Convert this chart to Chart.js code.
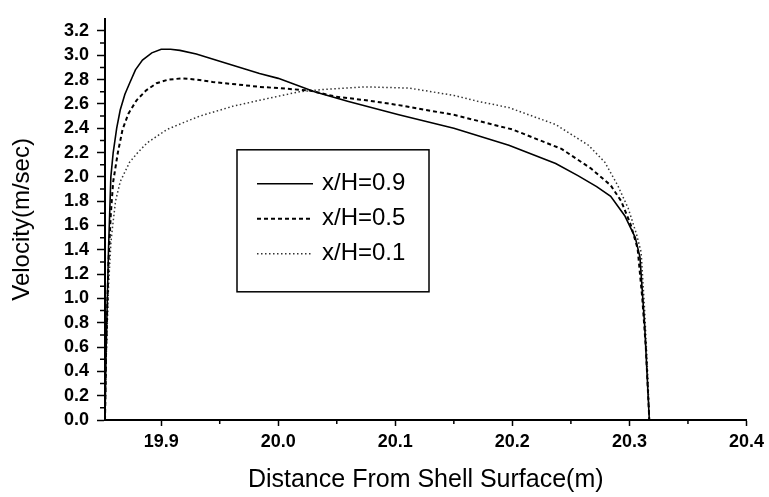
<!DOCTYPE html>
<html>
<head>
<meta charset="utf-8">
<script src="https://cdn.jsdelivr.net/npm/chart.js@4.4.0/dist/chart.umd.min.js"></script>
<style>
  html, body { margin: 0; padding: 0; background: #fff; }
  #wrap { width: 769px; height: 497px; }
</style>
</head>
<body>
<div id="wrap"><canvas id="velocityChart" width="769" height="497"></canvas></div>
<script>
// values: distance (m) and velocity (m/sec) for each x/H
const seriesLabels = ['x/H=0.9', 'x/H=0.5', 'x/H=0.1'];

const dist09 = [19.852, 19.853, 19.855, 19.857, 19.859, 19.862, 19.865, 19.869, 19.873, 19.878, 19.884, 19.892, 19.900, 19.908, 19.916, 19.930, 19.950, 19.984, 20.000, 20.031, 20.060, 20.103, 20.150, 20.197, 20.237, 20.256, 20.272, 20.284, 20.296, 20.305, 20.309, 20.313, 20.317];
const vel09  = [0.00, 0.60, 1.40, 2.00, 2.20, 2.40, 2.55, 2.68, 2.77, 2.88, 2.96, 3.02, 3.05, 3.05, 3.04, 3.01, 2.95, 2.85, 2.81, 2.70, 2.62, 2.51, 2.40, 2.26, 2.11, 2.01, 1.92, 1.84, 1.68, 1.50, 1.34, 0.78, 0.00];

const dist05 = [19.852, 19.853, 19.855, 19.857, 19.859, 19.863, 19.867, 19.872, 19.879, 19.887, 19.896, 19.906, 19.918, 19.930, 19.944, 19.965, 19.984, 20.000, 20.027, 20.049, 20.075, 20.103, 20.150, 20.200, 20.242, 20.267, 20.284, 20.293, 20.301, 20.307, 20.311, 20.314, 20.317];
const vel05  = [0.00, 0.60, 1.30, 1.70, 1.96, 2.20, 2.39, 2.52, 2.63, 2.71, 2.77, 2.80, 2.81, 2.80, 2.78, 2.76, 2.74, 2.73, 2.71, 2.66, 2.63, 2.59, 2.51, 2.39, 2.23, 2.07, 1.93, 1.80, 1.61, 1.41, 1.00, 0.60, 0.00];

const dist01 = [19.852, 19.853, 19.855, 19.857, 19.858, 19.861, 19.865, 19.873, 19.880, 19.888, 19.905, 19.920, 19.933, 19.961, 19.984, 20.018, 20.040, 20.075, 20.112, 20.150, 20.171, 20.197, 20.237, 20.265, 20.279, 20.290, 20.299, 20.306, 20.310, 20.313, 20.316, 20.317];
const vel01  = [0.00, 0.50, 1.10, 1.45, 1.55, 1.80, 1.96, 2.12, 2.20, 2.28, 2.39, 2.45, 2.50, 2.58, 2.63, 2.70, 2.72, 2.74, 2.73, 2.67, 2.62, 2.57, 2.43, 2.26, 2.12, 1.93, 1.74, 1.53, 1.38, 0.90, 0.30, 0.00];

const xTickValues = [19.9, 20.0, 20.1, 20.2, 20.3, 20.4];
const yTickValues = [0.0, 0.2, 0.4, 0.6, 0.8, 1.0, 1.2, 1.4, 1.6, 1.8, 2.0, 2.2, 2.4, 2.6, 2.8, 3.0, 3.2];
const xMinorTicks = [19.95, 20.05, 20.15, 20.25, 20.35];
const yMinorTicks = [0.1, 0.3, 0.5, 0.7, 0.9, 1.1, 1.3, 1.5, 1.7, 1.9, 2.1, 2.3, 2.5, 2.7, 2.9, 3.1];

function toPoints(xs, ys) {
    return xs.map((x, i) => ({ x: x, y: ys[i] }));
}

const FONT = '"Liberation Sans", Arial, Helvetica, sans-serif';
Chart.defaults.font.family = FONT;
Chart.defaults.color = '#000';

// small outward ticks between the labelled ones
const minorTicks = {
    id: 'minorTicks',
    afterDraw(chart) {
        const ctx = chart.ctx;
        const xs = chart.scales.x;
        const ys = chart.scales.y;
        ctx.save();
        ctx.strokeStyle = '#000';
        ctx.lineWidth = 1.5;
        ctx.beginPath();
        xMinorTicks.forEach(v => {
            const px = xs.getPixelForValue(v);
            ctx.moveTo(px, xs.top);
            ctx.lineTo(px, xs.top + 4);
        });
        yMinorTicks.forEach(v => {
            const py = ys.getPixelForValue(v);
            ctx.moveTo(ys.right, py);
            ctx.lineTo(ys.right - 5, py);
        });
        ctx.stroke();
        ctx.restore();
    }
};

// boxed legend sitting inside the plot
const boxLegend = {
    id: 'boxLegend',
    afterDraw(chart) {
        const ctx = chart.ctx;
        const area = chart.chartArea;
        const bx = area.left + 132, by = area.top + 131;
        ctx.save();
        ctx.strokeStyle = '#000';
        ctx.lineWidth = 1.5;
        ctx.setLineDash([]);
        ctx.strokeRect(bx, by, 192, 142);
        ctx.font = '24px ' + FONT;
        ctx.textBaseline = 'middle';
        ctx.fillStyle = '#000';
        chart.data.datasets.forEach((ds, i) => {
            const y = by + 34 + i * 35;
            ctx.strokeStyle = ds.borderColor;
            ctx.lineWidth = ds.borderWidth;
            ctx.setLineDash(ds.borderDash || []);
            ctx.beginPath();
            ctx.moveTo(bx + 20, y);
            ctx.lineTo(bx + 76, y);
            ctx.stroke();
            ctx.setLineDash([]);
            ctx.fillText(ds.label, bx + 85, y);
        });
        ctx.restore();
    }
};

new Chart(document.getElementById('velocityChart'), {
    type: 'line',
    data: {
        datasets: [
            {
                label: seriesLabels[0],
                data: toPoints(dist09, vel09),
                borderColor: '#000',
                borderWidth: 1.6
            },
            {
                label: seriesLabels[1],
                data: toPoints(dist05, vel05),
                borderColor: '#000',
                borderWidth: 2,
                borderDash: [4, 3]
            },
            {
                label: seriesLabels[2],
                data: toPoints(dist01, vel01),
                borderColor: '#333',
                borderWidth: 1.5,
                borderDash: [1.5, 2.5]
            }
        ]
    },
    options: {
        responsive: false,
        animation: false,
        devicePixelRatio: 1,
        layout: { padding: { top: 10, right: 20, left: 0, bottom: 0 } },
        elements: {
            point: { radius: 0 },
            line: { tension: 0, fill: false }
        },
        plugins: {
            legend: { display: false },
            tooltip: { enabled: false }
        },
        scales: {
            x: {
                type: 'linear',
                min: 19.852,
                max: 20.4,
                afterBuildTicks: s => { s.ticks = xTickValues.map(v => ({ value: v })); },
                afterFit: s => { s.height = 77; },
                grid: { display: true, drawOnChartArea: false, tickLength: 6, tickWidth: 1.5, tickColor: '#000' },
                border: { display: true, color: '#000', width: 2 },
                ticks: {
                    padding: 5,
                    color: '#000',
                    font: { size: 18, weight: 'bold' },
                    maxRotation: 0,
                    callback: v => v.toFixed(1)
                },
                title: {
                    display: true,
                    text: 'Distance From Shell Surface(m)',
                    color: '#000',
                    font: { size: 25 },
                    padding: { top: 0, bottom: 2 }
                }
            },
            y: {
                type: 'linear',
                min: 0,
                max: 3.3,
                afterBuildTicks: s => { s.ticks = yTickValues.map(v => ({ value: v })); },
                afterFit: s => { s.width = 105; },
                grid: { display: true, drawOnChartArea: false, tickLength: 8, tickWidth: 1.5, tickColor: '#000' },
                border: { display: true, color: '#000', width: 2 },
                ticks: {
                    padding: 8,
                    color: '#000',
                    font: { size: 18, weight: 'bold' },
                    callback: v => v.toFixed(1)
                },
                title: {
                    display: true,
                    text: 'Velocity(m/sec)',
                    color: '#000',
                    font: { size: 24 },
                    padding: { top: 8, bottom: 0 }
                }
            }
        }
    },
    plugins: [minorTicks, boxLegend]
});
</script>
</body>
</html>
